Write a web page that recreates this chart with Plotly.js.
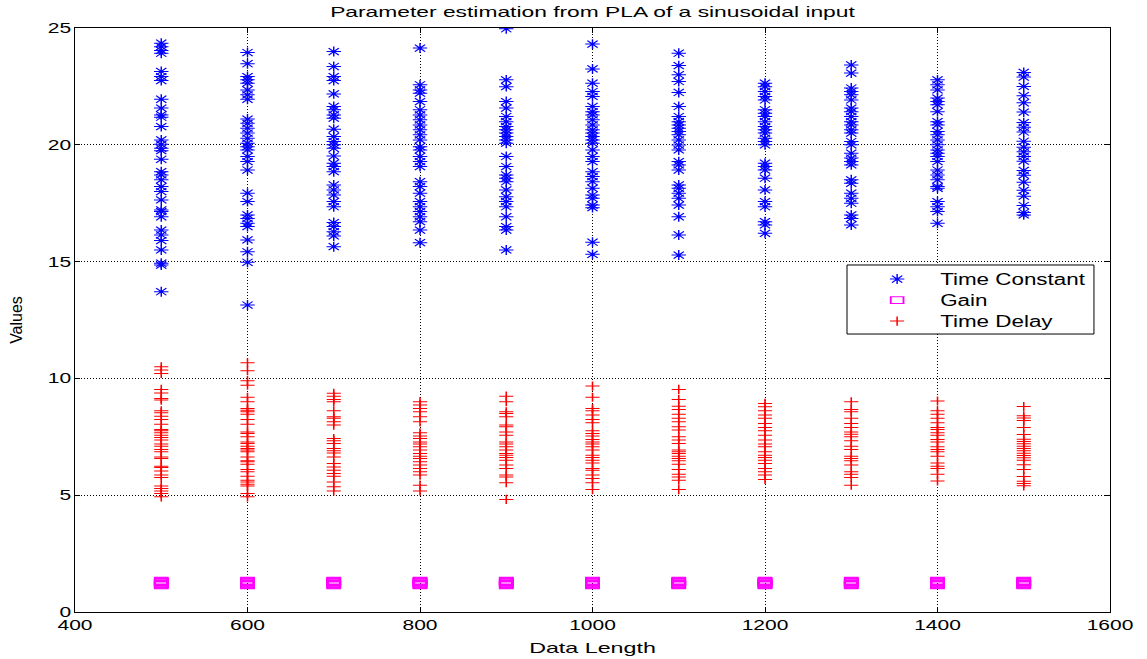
<!DOCTYPE html>
<html><head><meta charset="utf-8">
<script src="https://cdn.plot.ly/plotly-3.0.1.min.js"></script>
<style>html,body{margin:0;padding:0;background:#fff;} #chart{width:1147px;height:659px;}</style>
</head><body><div id="chart"></div>
<script>
const dataLength = [500,600,700,800,900,1000,1100,1200,1300,1400,1500];
const xTicks = [400,600,800,1000,1200,1400,1600];
const yTicks = [0,5,10,15,20,25];

const tc500 = [24.35,24.2,24.04,23.92,23.14,22.92,22.75,21.95,21.57,21.28,21.18,20.78,20.21,20.02,19.85,19.75,19.38,18.85,18.71,18.5,18.21,18.0,17.64,17.21,17.14,16.92,16.35,16.14,15.9,15.5,14.93,14.85,13.71];
const tc600 = [23.95,23.47,22.92,22.78,22.64,22.35,22.14,21.95,21.1,20.92,20.71,20.5,20.28,20.07,19.92,19.78,19.5,19.28,18.92,17.93,17.57,17.0,16.85,16.64,16.5,15.93,15.42,14.97,13.14];
const tc700 = [23.99,23.35,22.92,22.75,22.18,21.64,21.5,21.28,21.14,20.67,20.35,20.14,20.0,19.85,19.52,19.21,19.07,18.85,18.28,18.07,17.85,17.57,17.35,16.67,16.5,16.28,16.1,15.64];
const tc800 = [24.14,22.57,22.35,22.21,21.85,21.5,21.28,21.07,20.85,20.64,20.43,20.21,19.92,19.78,19.5,19.28,19.07,18.42,18.21,17.93,17.57,17.35,17.14,16.92,16.71,16.35,15.81];
const tc900 = [24.97,22.78,22.49,21.85,21.57,21.21,20.99,20.78,20.64,20.5,20.35,20.21,20.07,19.5,19.07,18.71,18.57,18.42,18.07,17.78,17.57,17.35,16.92,16.5,16.35,15.5];
const tc1000 = [24.31,23.25,22.64,22.28,22.07,21.64,21.42,21.28,21.07,20.85,20.64,20.5,20.35,20.21,20.07,19.78,19.5,19.28,18.85,18.64,18.42,18.14,17.85,17.71,17.42,17.31,15.83,15.31];
const tc1100 = [23.92,23.39,23.0,22.71,22.24,21.64,21.21,20.99,20.85,20.71,20.57,20.43,20.21,19.99,19.78,19.28,19.14,18.92,18.28,18.14,17.93,17.71,17.42,16.92,16.14,15.28];
const tc1200 = [22.64,22.49,22.28,22.07,21.92,21.5,21.35,21.21,20.99,20.78,20.64,20.5,20.28,20.14,20.0,19.21,19.07,18.92,18.57,18.07,17.57,17.35,16.71,16.57,16.21];
const tc1300 = [23.42,23.07,22.43,22.28,22.14,21.92,21.57,21.42,21.21,20.99,20.85,20.64,20.5,20.14,20.0,19.64,19.43,19.28,19.14,18.5,18.35,17.93,17.71,17.5,17.0,16.85,16.57];
const tc1400 = [22.78,22.57,22.35,22.0,21.85,21.71,21.42,20.99,20.85,20.57,20.43,20.21,20.0,19.78,19.64,19.5,19.28,18.92,18.71,18.5,18.21,18.14,17.57,17.35,17.14,16.64];
const tc1500 = [23.1,22.9,22.5,22.1,21.8,21.4,20.95,20.75,20.55,20.15,19.9,19.7,19.5,19.3,18.9,18.7,18.4,18.05,17.8,17.4,17.1,17.0];

const td500 = [10.5,10.36,10.21,9.53,9.38,9.14,9.07,8.61,8.53,8.38,8.24,8.04,7.81,7.76,7.67,7.57,7.47,7.36,7.19,7.1,6.96,6.86,6.64,6.57,6.24,6.19,6.04,5.86,5.76,5.39,5.29,5.18,5.07,4.93];
const td600 = [10.67,10.33,9.9,9.71,9.19,9.0,8.71,8.64,8.57,8.47,8.24,8.04,7.71,7.64,7.5,7.28,7.21,7.1,7.0,6.93,6.86,6.64,6.47,6.43,6.33,6.1,6.0,5.81,5.64,5.57,5.47,5.39,5.07,4.93];
const td700 = [9.36,9.24,9.1,9.0,8.61,8.36,8.29,8.14,8.0,7.43,7.33,7.21,7.0,6.9,6.81,6.64,6.36,6.21,6.07,5.93,5.81,5.57,5.36,5.18];
const td800 = [9.0,8.86,8.71,8.57,8.36,8.14,7.67,7.53,7.43,7.28,7.19,7.07,6.93,6.79,6.67,6.57,6.43,6.29,6.14,6.0,5.86,5.43,5.18];
const td900 = [9.24,9.0,8.57,8.5,8.36,8.0,7.93,7.71,7.57,7.28,7.19,7.07,6.93,6.79,6.71,6.61,6.5,6.29,6.14,5.86,5.78,5.53,4.82];
const td1000 = [9.67,9.19,8.71,8.61,8.43,8.24,8.1,7.76,7.64,7.53,7.38,7.28,7.19,7.07,6.93,6.71,6.61,6.5,6.38,6.14,6.07,5.86,5.71,5.53,5.24];
const td1100 = [9.53,9.1,8.81,8.67,8.47,8.29,8.14,7.93,7.79,7.5,7.36,7.21,6.93,6.86,6.79,6.67,6.57,6.47,6.33,6.1,5.9,5.78,5.64,5.24];
const td1200 = [8.93,8.79,8.61,8.43,8.29,8.07,7.9,7.76,7.57,7.36,7.19,7.07,6.86,6.71,6.61,6.5,6.36,6.14,6.0,5.86,5.67];
const td1300 = [9.0,8.67,8.57,8.29,8.07,7.9,7.71,7.61,7.5,7.33,7.1,6.96,6.67,6.57,6.47,6.29,6.0,5.9,5.76,5.43];
const td1400 = [9.03,8.61,8.47,8.29,8.1,7.9,7.81,7.67,7.57,7.38,7.28,7.07,6.96,6.86,6.67,6.38,6.24,6.14,5.9,5.61];
const td1500 = [8.8,8.4,8.3,8.2,7.9,7.6,7.4,7.3,7.2,7.1,7.0,6.9,6.8,6.7,6.6,6.5,6.3,6.1,5.8,5.6,5.5,5.4];

const gainValues = [1.14,1.16,1.18,1.20,1.22,1.26,1.28,1.30,1.32,1.34];

const timeConstant = [tc500,tc600,tc700,tc800,tc900,tc1000,tc1100,tc1200,tc1300,tc1400,tc1500];
const timeDelay = [td500,td600,td700,td800,td900,td1000,td1100,td1200,td1300,td1400,td1500];
const gain = dataLength.map(() => gainValues);

function expand(cols){
  const x = [], y = [];
  cols.forEach((c, i) => c.forEach(v => { x.push(dataLength[i]); y.push(v); }));
  return {x, y};
}
const TC = expand(timeConstant), GN = expand(gain), TD = expand(timeDelay);
const BLUE = 'rgb(0,0,255)', MAG = 'rgb(255,0,255)', RED = 'rgb(255,0,0)';
const FONT = 'Liberation Sans, Arial, sans-serif';

function mk(d, name, sym, size, color, lw){
  return {x: d.x, y: d.y, type: 'scatter', mode: 'markers', name: name, hoverinfo: 'skip',
    marker: {symbol: sym, size: size, color: color, line: {color: color, width: lw || 1}}};
}
const traces = [
  mk(TC, 'Time Constant', 'asterisk-open', 8.3, BLUE),
  mk(GN, 'Gain', 'square-open', 6.7, MAG, 1),
  mk(TD, 'Time Delay', 'cross-thin-open', 6.5, RED)
];
// horizontal stretch of each marker (the original figure is horizontally stretched)
const markerStretch = [1.45, 1.9, 1.55];

const axisCommon = {showline: true, linecolor: '#000', linewidth: 1, mirror: 'ticks', ticks: 'inside',
  ticklen: 5, tickcolor: '#000', showgrid: true, gridcolor: '#000', gridwidth: 1, griddash: '1px,2px',
  zeroline: false, tickfont: {family: FONT, size: 14, color: '#000'}};

const layout = {
  width: 1147, height: 659, paper_bgcolor: '#fff', plot_bgcolor: '#fff',
  margin: {l: 75, r: 37, t: 28, b: 47},
  font: {family: FONT, color: '#000'},
  title: {text: 'Parameter estimation from PLA of a sinusoidal input', font: {family: FONT, size: 15, color: '#000'},
    x: 0.5, xanchor: 'center', y: 0.982, yanchor: 'middle', xref: 'paper'},
  xaxis: Object.assign({}, axisCommon, {range: [400, 1600], tickvals: xTicks, ticktext: xTicks.map(String),
    title: {text: 'Data Length', font: {family: FONT, size: 15, color: '#000'}, standoff: 10}}),
  yaxis: Object.assign({}, axisCommon, {range: [0, 25], tickvals: yTicks, ticktext: yTicks.map(String),
    title: {text: 'Values', font: {family: FONT, size: 16, color: '#000'}, standoff: 29}}),
  legend: {x: 0.775, y: 0.599, xanchor: 'left', yanchor: 'top', bgcolor: 'rgba(0,0,0,0)', borderwidth: 0,
    font: {family: FONT, size: 16, color: '#000'}, tracegroupgap: 0},
  shapes: [{type: 'rect', xref: 'paper', yref: 'paper', x0: 0.7459, x1: 0.9845, y0: 0.476, y1: 0.5942,
    fillcolor: '#fff', line: {color: '#000', width: 1}, layer: 'above'}]
};

function stretch(sel, k){
  document.querySelectorAll(sel).forEach(t => {
    const w = t.getComputedTextLength ? t.getComputedTextLength() : 0;
    if (w > 0) { t.setAttribute('textLength', (w * k).toFixed(1)); t.setAttribute('lengthAdjust', 'spacingAndGlyphs'); }
  });
}
function scalePaths(paths, sx){
  paths.forEach(p => {
    const tr = p.getAttribute('transform') || '';
    p.setAttribute('transform', tr + ' scale(' + sx + ',1)');
  });
}
function fixMarkers(){
  const tr = Array.from(document.querySelectorAll('.scatterlayer .trace'));
  tr.forEach((g, i) => scalePaths(Array.from(g.querySelectorAll('path.point')), markerStretch[i] || 1));
  const items = Array.from(document.querySelectorAll('.legend .traces'));
  items.forEach((g, i) => scalePaths(Array.from(g.querySelectorAll('.legendpoints path')), markerStretch[i] || 1));
}
function fixLegend(){
  document.querySelectorAll('.legend .scrollbox').forEach(e => e.removeAttribute('clip-path'));
  const items = Array.from(document.querySelectorAll('.legend .traces'));
  let y0 = null;
  items.forEach((g, i) => {
    const m = /translate\(\s*([-\d.]+)[ ,]+([-\d.]+)\s*\)/.exec(g.getAttribute('transform') || '');
    if (!m) return;
    const x = parseFloat(m[1]), y = parseFloat(m[2]);
    if (y0 === null) y0 = y;
    g.setAttribute('transform', 'translate(' + x + ',' + (y0 + i * 21) + ')');
  });
  document.querySelectorAll('.legend .legendtext').forEach(t => {
    const x = parseFloat(t.getAttribute('x') || '0');
    t.setAttribute('x', x + 23);
  });
}
Plotly.newPlot('chart', traces, layout, {staticPlot: true, displayModeBar: false}).then(() => {
  stretch('.gtitle', 1.52);
  stretch('.xtick text', 1.5);
  stretch('.ytick text', 1.5);
  stretch('.xtitle', 1.55);
  fixMarkers();
  fixLegend();
  stretch('.legendtext', 1.4);
});
</script></body></html>
